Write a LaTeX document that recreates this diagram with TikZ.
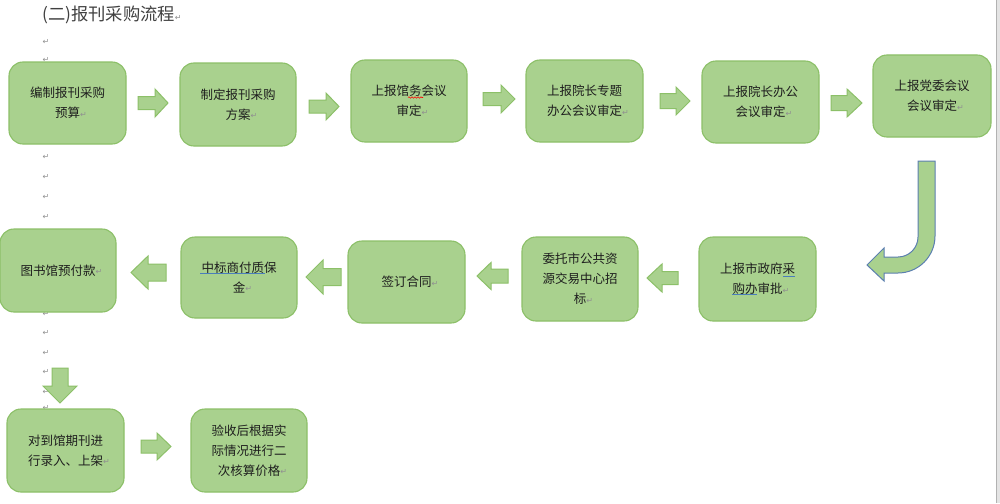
\documentclass[tikz,border=0pt]{standalone}
\usepackage{fontspec}
\setmainfont{Noto Sans CJK SC}
\newfontfamily\dejavu{DejaVu Sans}
\usetikzlibrary{decorations.pathmorphing}
\definecolor{boxfill}{HTML}{A9D18E}
\definecolor{boxline}{HTML}{8CC068}
\definecolor{bentline}{HTML}{5B7FB0}
\definecolor{pmgray}{HTML}{909090}
\definecolor{txt}{HTML}{1E1E1E}
\definecolor{squig}{HTML}{4A7EBB}
\definecolor{edgegray}{HTML}{E4E4E4}
\newcommand\pmark{\rlap{\textcolor{pmgray}{\dejavu\fontsize{8}{8}\selectfont\raisebox{0.5pt}{↵}}}}
% horizontal block arrow: tail x, tip x, centre y, head half-height, shaft half-height, head base x
\newcommand\harrow[6]{\draw[blockarrow] (#1,#3-#5) -- (#6,#3-#5) -- (#6,#3-#4) -- (#2,#3) -- (#6,#3+#4) -- (#6,#3+#5) -- (#1,#3+#5) -- cycle;}
% vertical block arrow: tail y, tip y, centre x, head half-width, shaft half-width, head base y
\newcommand\varrow[6]{\draw[blockarrow] (#3-#5,#1) -- (#3-#5,#6) -- (#3-#4,#6) -- (#3,#2) -- (#3+#4,#6) -- (#3+#5,#6) -- (#3+#5,#1) -- cycle;}
\begin{document}
\begin{tikzpicture}[x=1pt,y=-1pt,
  box/.style={draw=boxline, line width=1.1pt, fill=boxfill, rounded corners=14pt,
    align=center, font=\fontsize{12.5}{20}\selectfont, text=txt, inner sep=0pt},
  blockarrow/.style={draw=boxline, line width=1pt, fill=boxfill, line join=miter},
  pm/.style={text=pmgray, font=\dejavu\fontsize{8}{8}\selectfont, inner sep=0pt}]
\useasboundingbox (0,0) rectangle (1000,503);
\fill[white] (0,0) rectangle (1000,503);
\fill[edgegray] (996,0) rectangle (1000,503);
\draw[gray!60, line width=0.6pt] (996,0) -- (996,503);

% title and paragraph marks
\node[anchor=west, font=\fontsize{17.3}{20}\selectfont, text=txt!85, inner sep=0pt] (title) at (42,15) {(二)报刊采购流程\pmark};
\foreach \yy in {42,60,157,177,197,217,314,333,353,372,392,408}
  \node[pm] (pm\yy) at (46,\yy) {↵};

% row 1
\node[box, minimum width=117pt, minimum height=82pt] (b1) at (67.5,103) {编制报刊采购\\预算\pmark};
\node[box, minimum width=116pt, minimum height=83pt] (b2) at (238,104.5) {制定报刊采购\\方案\pmark};
\node[box, minimum width=116pt, minimum height=82pt] (b3) at (409,101) {上报馆务会议\\审定\pmark};
\node[box, minimum width=117pt, minimum height=82pt] (b4) at (584.5,101) {上报院长专题\\办公会议审定\pmark};
\node[box, minimum width=117pt, minimum height=82pt] (b5) at (760.5,102) {上报院长办公\\会议审定\pmark};
\node[box, minimum width=118pt, minimum height=82pt] (b6) at (932,96) {上报党委会议\\会议审定\pmark};

% row 2
\node[box, minimum width=117pt, minimum height=84pt] (b7) at (757.5,279) {上报市政府采\\购办审批\pmark};
\node[box, minimum width=116pt, minimum height=84pt] (b8) at (580,279) {委托市公共资\\源交易中心招\\标\pmark};
\node[box, minimum width=117pt, minimum height=82pt] (b9) at (406.5,282) {签订合同\pmark};
\node[box, minimum width=116pt, minimum height=81pt] (b10) at (239,277.5) {中标商付质保\\金\pmark};
\node[box, minimum width=116pt, minimum height=83pt] (b11) at (58,270.5) {图书馆预付款\pmark};

% row 3
\node[box, minimum width=117pt, minimum height=83pt] (b12) at (65.5,450.5) {对到馆期刊进\\行录入、上架\pmark};
\node[box, minimum width=116pt, minimum height=83pt] (b13) at (249,450.5) {验收后根据实\\际情况进行二\\次核算价格\pmark};

% block arrows
\harrow{138}{168}{103}{14}{6.5}{155}
\harrow{309}{339}{106.5}{13.5}{6.5}{326}
\harrow{483}{515}{99}{14}{6.5}{501}
\harrow{660}{690}{101}{14}{7.5}{676}
\harrow{831}{862}{103}{14}{7.5}{847}
\harrow{678}{647}{278}{14}{6.5}{662}
\harrow{508}{477}{276}{13.5}{7}{491}
\harrow{341}{306}{277}{17}{8.5}{323}
\harrow{166}{131}{272.5}{16.5}{8.5}{148}
\varrow{368}{403}{60}{17}{8}{386}
\harrow{141}{171}{446.5}{13.5}{6.5}{157}

% bent arrow from b6 down to b7
\draw[fill=boxfill, draw=bentline, line width=1pt, line join=miter]
  (918,161) -- (935,161) -- (935,236)
  .. controls (935,256.4) and (918.4,273) .. (898,273)
  -- (884,273) -- (884,281) -- (867,265) -- (884,248) -- (884,257) -- (898,257)
  .. controls (909,257) and (918,248) .. (918,237) -- cycle;

% proofing underlines
\draw[red, line width=0.6pt, decorate, decoration={snake, amplitude=0.7pt, segment length=3pt}] (408,97.5) -- (423,97.5);
\draw[squig, line width=1.3pt] (200,273.5) -- (265,273.5);
\draw[squig, line width=1.3pt] (783,276.5) -- (795,276.5);
\draw[squig, line width=1.3pt] (732,294.5) -- (757,294.5);
\end{tikzpicture}
\end{document}
